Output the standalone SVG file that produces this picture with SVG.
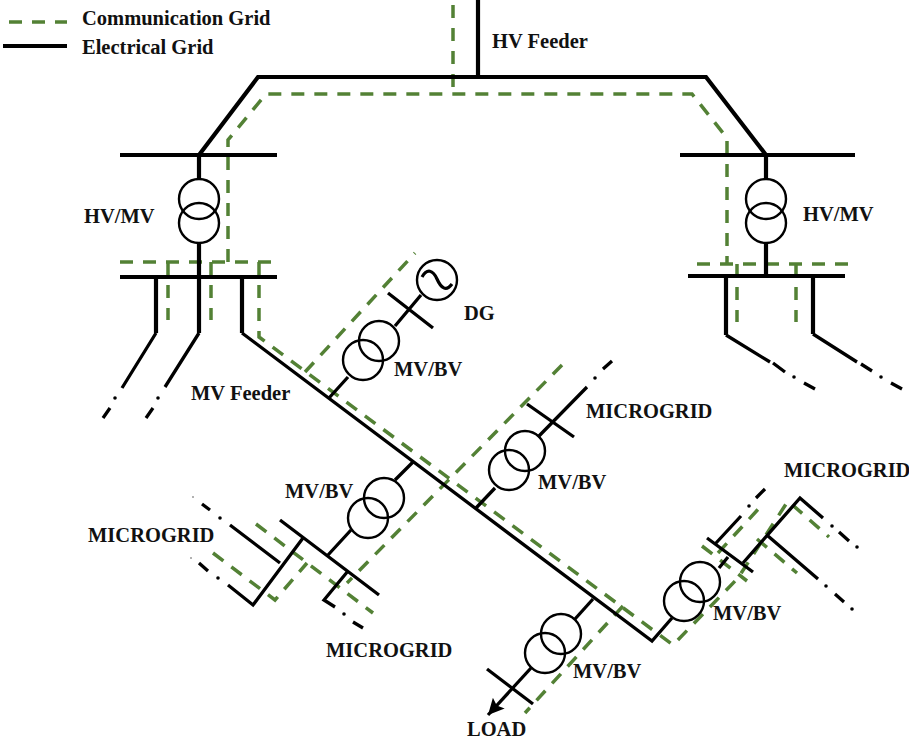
<svg xmlns="http://www.w3.org/2000/svg" width="909" height="740" viewBox="0 0 909 740">
<style>
text{font-family:"Liberation Serif","Times New Roman",serif;font-weight:bold;font-size:20.5px;fill:#111}
.e{fill:none;stroke:#000;stroke-width:3.3;stroke-linejoin:miter}
.t{stroke-width:4.2}
.c{fill:none;stroke:#538135;stroke-width:3.5;stroke-dasharray:13 10}
.x{fill:none;stroke:#000;stroke-width:2.4}
.s{fill:none;stroke:#000;stroke-width:3.2}
.d{fill:#000}
.f{fill:#999}
</style>
<defs>
<marker id="arrow" markerUnits="userSpaceOnUse" markerWidth="18" markerHeight="16" refX="16" refY="8" orient="auto"><path d="M0 0L16 8L0 16L3 8Z" fill="#000"/></marker>
</defs>
<rect width="909" height="740" fill="#fff"/>
<g id="legend">
<line class="c" x1="9" y1="22" x2="67" y2="22"/>
<line class="e t" x1="3" y1="46" x2="67" y2="46"/>
<text x="82" y="25">Communication Grid</text>
<text x="82" y="54">Electrical Grid</text>
</g>
<g id="connectors">
<g id="communication-grid">
<path class="c" d="M453 5V87"/>
<path class="c" d="M228 262V140L266 94H692L727 138V264"/>
<path class="c" d="M120 262H277"/>
<path class="c" d="M168 262V320M211 262V320"/>
<path class="c" d="M259 262V337L673 645L738 578L788 501L829 537"/>
<path class="c" d="M697 264H855"/>
<path class="c" d="M737 264V322M796 264V322"/>
<path class="c" d="M305 372L415 253"/>
<path class="c" d="M562 365L347 583"/>
<path class="c" d="M256 524L373 613"/>
<path class="c" d="M213 553L275 600L307 563"/>
<path class="c" d="M623 606L525 713"/>
<path class="c" d="M702 546L747 581"/>
<path class="c" d="M718 553L762 505"/>
<path class="c" d="M757 539L797 573"/>
</g>
<g id="electrical-grid">
<path class="e t" d="M478 0V77"/>
<path class="e t" d="M199 155L258 77H706L766 155"/>
<path class="e t" d="M120 155H277M199 155V178M199 244V277M120 277H277"/>
<path class="e t" d="M680 155H855M766 155V178M766 243V276M688 276H845"/>
<path class="e t" d="M156 277V333"/><path class="e" d="M156 333L122 388M110 408L103 418"/>
<path class="e t" d="M199 277V333"/><path class="e" d="M199 333L165 387M153 408L146 418"/>
<path class="e t" d="M242 277V333"/>
<path class="e" d="M242 333L652 641L672 618"/>
<path class="e t" d="M726 276V335"/><path class="e" d="M726 335L770 362M773 363L785 372M804 383L815 389"/>
<path class="e t" d="M813 276V334"/><path class="e" d="M813 334L857 362M861 364L872 371M891 383L902 389"/>
<path class="e" d="M329 398L348 377M395 326L421 295M388 293L433 328"/>
<path class="e" d="M476 508L495 488M538 437L587 387M603 369L612 361M527 404L574 437"/>
<path class="e" d="M413 462L395 480M351 530L328 555M280 520L379 595"/>
<path class="e" d="M303 538L253 605L228 585M208 571L199 563M280 563L230 525M210 510L202 504"/>
<path class="e" d="M348 571L324 600L335 607M353 622L363 628"/>
<path class="e" d="M593 599L575 619"/>
<path class="e" d="M531 668L488 715" marker-end="url(#arrow)"/>
<path class="e" d="M487 669L533 704"/>
<path class="e" d="M719 568L728 557M707 538L753 572M716 543L741 516M756 498L765 489"/>
<path class="e" d="M743 563L800 498L823 518M839 532L849 541M768 536L818 579M835 594L844 602"/>
<g class="d">
<circle cx="115" cy="398" r="1.8"/><circle cx="158" cy="398" r="1.8"/>
<circle cx="794" cy="377" r="1.8"/><circle cx="881" cy="377" r="1.8"/>
<circle cx="595" cy="378" r="1.8"/><circle cx="220" cy="518" r="1.8"/>
<circle cx="218" cy="578" r="1.8"/><circle cx="344" cy="614" r="1.8"/>
<circle cx="749" cy="506" r="1.8"/><circle cx="832" cy="526" r="1.8"/>
<circle cx="857" cy="547" r="1.8"/><circle cx="826" cy="586" r="1.8"/>
<circle cx="852" cy="609" r="1.8"/>
</g>
<circle class="f" cx="193" cy="497" r="1"/><circle class="f" cx="191" cy="558" r="1"/>
</g>
</g>
<g id="hv-feeder"><text x="492" y="48">HV Feeder</text></g>
<g id="mv-feeder"><text x="191" y="400">MV Feeder</text></g>
<g id="transformer-hv-mv-left"><circle class="x" cx="199" cy="199" r="20"/><circle class="x" cx="199" cy="223" r="20"/><text x="84" y="223">HV/MV</text></g>
<g id="transformer-hv-mv-right"><circle class="x" cx="766" cy="199" r="20"/><circle class="x" cx="766" cy="223" r="20"/><text x="803" y="221">HV/MV</text></g>
<g id="dg"><circle class="x" cx="437" cy="280" r="20"/><path class="s" d="M422 277C427 268 433 270 437 279S446 292 452 284"/><text x="464" y="320">DG</text></g>
<g id="transformer-dg"><circle class="x" cx="379" cy="341" r="20"/><circle class="x" cx="363" cy="360" r="20"/><text x="394" y="376">MV/BV</text></g>
<g id="transformer-microgrid-upper"><circle class="x" cx="525" cy="451" r="20"/><circle class="x" cx="509" cy="470" r="20"/><text x="538" y="489">MV/BV</text><text x="586" y="418">MICROGRID</text></g>
<g id="transformer-microgrid-left"><circle class="x" cx="384" cy="498" r="20"/><circle class="x" cx="368" cy="518" r="20"/><text x="285" y="498">MV/BV</text><text x="88" y="542">MICROGRID</text><text x="326" y="657">MICROGRID</text></g>
<g id="transformer-load"><circle class="x" cx="561" cy="634" r="20"/><circle class="x" cx="545" cy="653" r="20"/><text x="573" y="678">MV/BV</text><text x="467" y="736">LOAD</text></g>
<g id="transformer-microgrid-right"><circle class="x" cx="700" cy="582" r="20"/><circle class="x" cx="684" cy="601" r="20"/><text x="713" y="620">MV/BV</text><text x="784" y="477">MICROGRID</text></g>
</svg>
